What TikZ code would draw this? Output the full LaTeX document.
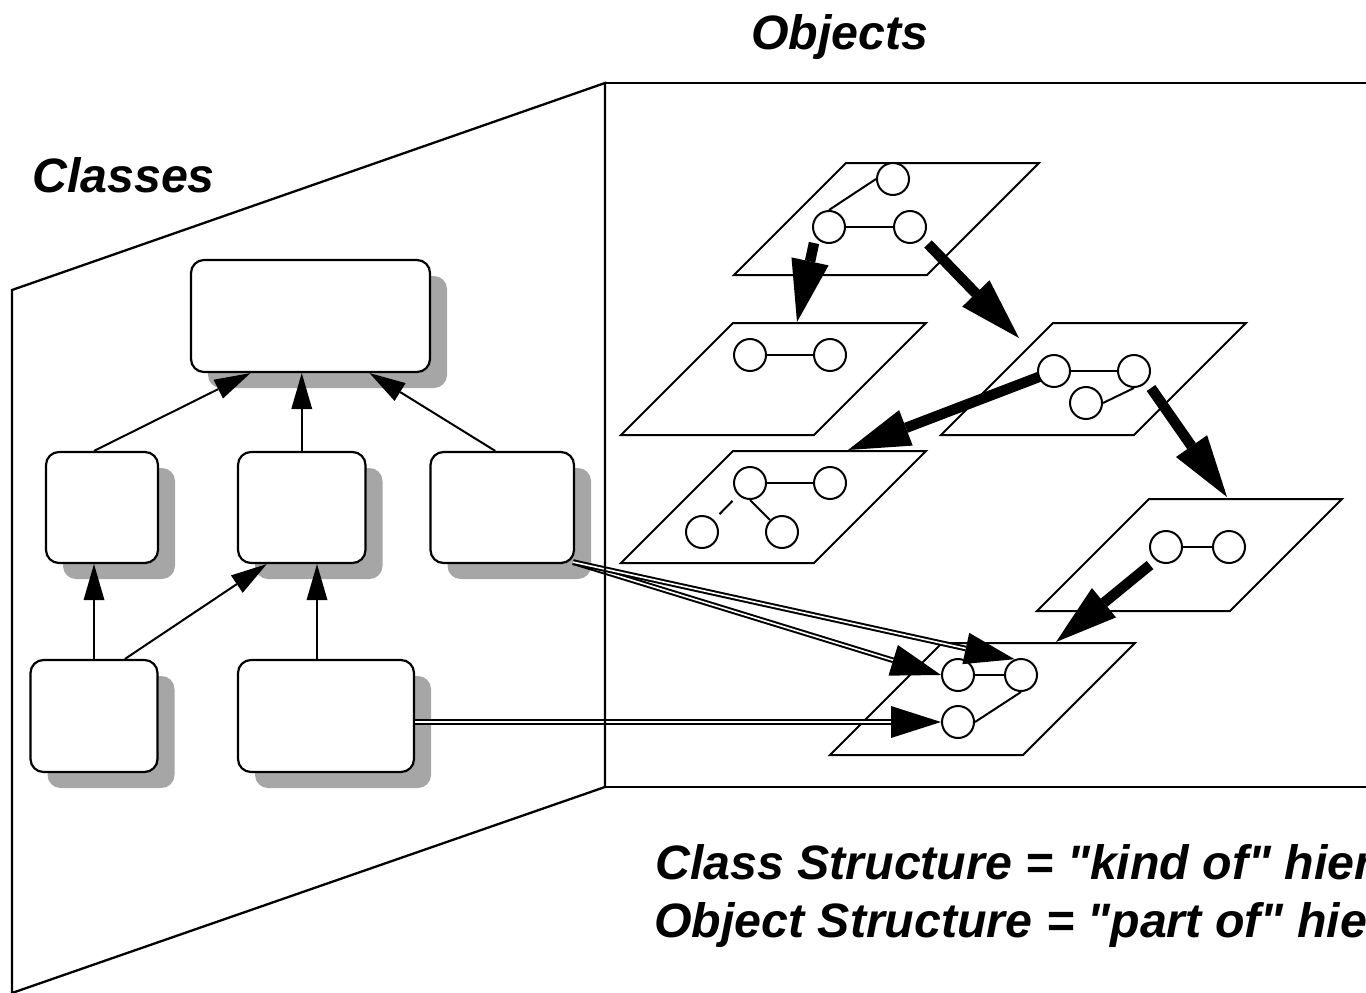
\documentclass[tikz,border=0pt]{standalone}
\usepackage{fontspec}
\setmainfont{Liberation Sans}[Ligatures=TeXOff]
\usetikzlibrary{arrows.meta,shadows,calc}
\definecolor{shadowgray}{RGB}{166,166,166}
\pgfdeclarelayer{planelayer}
\pgfdeclarelayer{arrowlayer}
\pgfsetlayers{planelayer,arrowlayer,main}
\newcommand\objplane[1]{\draw[plane] (#1) -- ++(193,0) -- ++(-112,112) -- ++(-193,0) -- cycle;}
\begin{document}
\begin{tikzpicture}[x=1pt,y=-1pt,
  wall/.style={line width=2.3pt},
  cbox/.style={draw, line width=2.2pt, fill=white, rounded corners=13pt, inner sep=0pt,
    drop shadow={shadow xshift=17pt, shadow yshift=-16pt, fill=shadowgray, opacity=1}},
  plane/.style={draw, line width=2pt, fill=white, line join=miter},
  obj/.style={circle, draw, line width=2pt, fill=white, minimum size=32pt, inner sep=0pt},
  link/.style={line width=2pt},
  isa/.style={line width=2pt, -{Triangle[length=36pt,width=21pt,line width=0pt]}},
  part/.style={line width=10.5pt, -{Triangle[length=62pt,width=38pt,line width=0pt]}},
  inst/.style={double, line width=2pt, double distance=1.6pt, -{Triangle[length=50pt,width=32pt,line width=0pt]}},
  lab/.style={font=\fontsize{48.3}{58}\selectfont\bfseries\itshape, inner sep=0pt}
]
\useasboundingbox (0,0) rectangle (1366,993);
\clip (0,0) rectangle (1366,993);

% ---------- object planes ----------
\coordinate (pl1) at (846,163);
\coordinate (pl2) at (733,323);
\coordinate (pl3) at (1053,323);
\coordinate (pl4) at (733,451);
\coordinate (pl5) at (1149,499);
\coordinate (pl6) at (942,643);
\begin{pgfonlayer}{planelayer}
\objplane{pl1}
\objplane{pl2}
\objplane{pl3}
\objplane{pl4}
\objplane{pl5}
\objplane{pl6}
\end{pgfonlayer}

% ---------- objects ----------
\node[obj] (p1a) at (893,179) {};
\node[obj] (p1b) at (829,227) {};
\node[obj] (p1c) at (910,227) {};
\node[obj] (p2a) at (750,355) {};
\node[obj] (p2b) at (830,355) {};
\node[obj] (p3a) at (1054,371) {};
\node[obj] (p3b) at (1134,371) {};
\node[obj] (p3c) at (1086,403) {};
\node[obj] (p4a) at (750,483) {};
\node[obj] (p4b) at (830,483) {};
\node[obj] (p4c) at (702,532) {};
\node[obj] (p4d) at (782,532) {};
\node[obj] (p5a) at (1166,547) {};
\node[obj] (p5b) at (1229,547) {};
\node[obj] (p6a) at (958,675) {};
\node[obj] (p6b) at (1021,675) {};
\node[obj] (p6c) at (958,722) {};

\draw[link] (p1b) -- (p1c);
\draw[link] (p1b.north) -- (p1a.west);
\draw[link] (p2a) -- (p2b);
\draw[link] (p3a) -- (p3b);
\draw[link] (p3c.east) -- (p3b.south);
\draw[link] (p4a) -- (p4b);
\draw[link] (p4a.south) -- (p4d.north west);
\draw[link, shorten >=8pt, shorten <=8pt] (p4a) -- (p4c);
\draw[link] (p5a) -- (p5b);
\draw[link] (p6a) -- (p6b);
\draw[link] (p6c.east) -- (p6b.south);

% ---------- part-of arrows ----------
\coordinate (t1) at (797,322);
\coordinate (t2) at (1019,338);
\coordinate (t3) at (848,450);
\coordinate (t4) at (1227,497);
\coordinate (t5) at (1056,642);
\begin{pgfonlayer}{arrowlayer}
\draw[part] ($(p1b)+(-15,16)$) -- (t1);
\draw[part] ($(p1c)+(18,17)$) -- (t2);
\draw[part] ($(p3a)+(-10,4)$) -- (t3);
\draw[part] ($(p3b)+(17,17)$) -- (t4);
\draw[part] ($(p5a)+(-16,18)$) -- (t5);
\end{pgfonlayer}

% ---------- classes ----------
\node[cbox, minimum width=239pt, minimum height=112pt] (top) at (310.5,316) {};
\node[cbox, minimum width=112pt, minimum height=111pt] (A) at (102,507.5) {};
\node[cbox, minimum width=127.5pt, minimum height=111pt] (B) at (301.75,507.5) {};
\node[cbox, minimum width=143.5pt, minimum height=111pt] (C) at (502.25,507.5) {};
\node[cbox, minimum width=127pt, minimum height=112pt] (D) at (94,716) {};
\node[cbox, minimum width=176pt, minimum height=112pt] (E) at (326,716) {};

\draw[isa] ($(A.north)+(-8,0)$) -- ($(top.south)+(-60,0)$);
\draw[isa] (B.north) -- (B.north |- top.south);
\draw[isa] ($(C.north)+(-7,0)$) -- ($(top.south)+(59,0)$);
\draw[isa] (D.north) -- (D.north |- A.south);
\draw[isa] ($(D.north)+(31,0)$) -- ($(B.south)+(-35,0)$);
\draw[isa] ($(E.north)+(-9,0)$) coordinate (e1) -- (e1 |- B.south);

% ---------- instance arrows ----------
\draw[inst] ($(C.south east)+(-2,-2)$) -- (p6a.west);
\draw[inst] ($(C.south east)+(-2,-2)$) -- (p6b.112);
\draw[inst] (E.east |- p6c) -- (p6c.west);

% ---------- walls ----------
\coordinate (wtl) at (12,290);
\coordinate (wtr) at (605,83);
\coordinate (wbr) at (605,787);
\coordinate (wbl) at (12,993);
\coordinate (otr) at (1370,83);
\coordinate (obr) at (1370,787);
\draw[wall] (wtl) -- (wtr) -- (wbr) -- (wbl) -- cycle;
\draw[wall] (wtr) -- (otr);
\draw[wall] (wbr) -- (obr);

% ---------- labels ----------
\node[lab, anchor=base west] (tobj) at (751,49) {Objects};
\node[lab, anchor=base west] (tcls) at (32,192) {Classes};
\node[lab, anchor=base west] (tcs) at (655,879) {Class Structure = "kind of" hier};
\node[lab, anchor=base west] (tos) at (654,937) {Object Structure = "part of" hier};
\end{tikzpicture}
\end{document}
